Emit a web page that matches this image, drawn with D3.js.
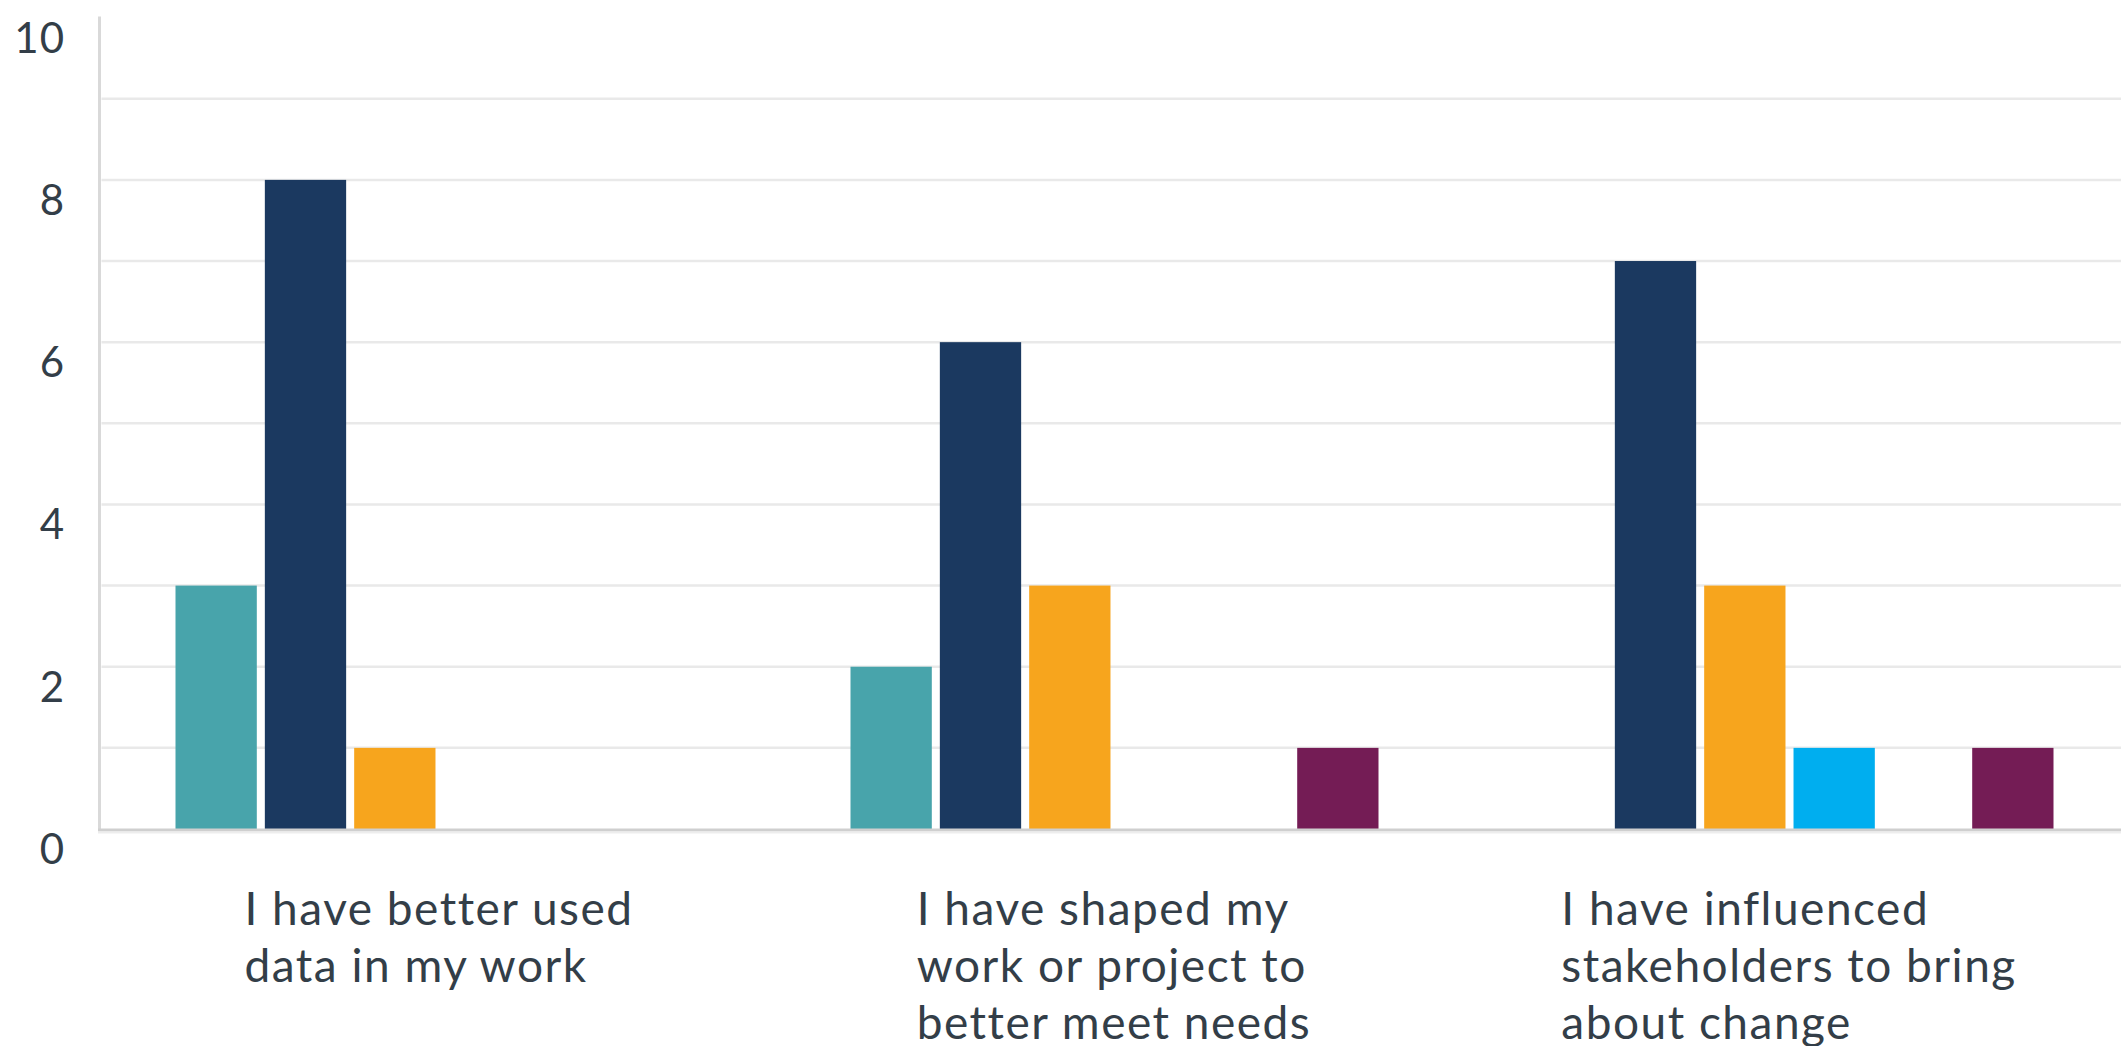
<!DOCTYPE html>
<html>
<head>
<meta charset="utf-8">
<script src="https://cdn.jsdelivr.net/npm/d3@7"></script>
<style>
  html, body { margin: 0; padding: 0; background: #ffffff; }
  svg { display: block; }
</style>
</head>
<body>
<svg id="chart" width="2121" height="1046"></svg>
<script>
// Categories along the x axis
const categories = [
  "I have better used data in my work",
  "I have shaped my work or project to better meet needs",
  "I have influenced stakeholders to bring about change"
];

// Response options (one bar per option in each group)
const seriesKeys = ["r1", "r2", "r3", "r4", "r5", "r6"];
const seriesColors = ["#48a4ab", "#1b3960", "#f7a51d", "#00aeef", "#9aa5b1", "#741c55"];

// Counts per response option, in category order
const r1 = [3, 2, 0];
const r2 = [8, 6, 7];
const r3 = [1, 3, 3];
const r4 = [0, 0, 1];
const r5 = [0, 0, 0];
const r6 = [0, 1, 1];
const seriesValues = [r1, r2, r3, r4, r5, r6];

// Y axis ticks
const yTicks = [0, 2, 4, 6, 8, 10];
const gridTicks = [1, 2, 3, 4, 5, 6, 7, 8, 9];

const svg = d3.select("#chart");
const W = 2121, H = 1046;
const axisX = 101.5;
const groupStep = 675;

const y = d3.scaleLinear().domain([0, 10]).range([829, 17.6]);
const x = d3.scaleBand()
  .domain(categories)
  .range([axisX, axisX + groupStep * categories.length])
  .paddingInner(0).paddingOuter(0);
const xs = d3.scaleBand()
  .domain(seriesKeys)
  .range([74, 74 + 528])
  .paddingInner(0.09).paddingOuter(0);

const textColor = "#333e48";
const fontFamily = "Lato, 'Open Sans', sans-serif";

// Horizontal gridlines
svg.append("g")
  .selectAll("line")
  .data(gridTicks)
  .join("line")
  .attr("x1", axisX).attr("x2", W)
  .attr("y1", d => y(d)).attr("y2", d => y(d))
  .attr("stroke", "#e9e9e9")
  .attr("stroke-width", 2.5);

// Bars
const rows = [];
categories.forEach((c, ci) => {
  seriesKeys.forEach((k, si) => {
    rows.push({ cat: c, key: k, value: seriesValues[si][ci], color: seriesColors[si] });
  });
});

svg.append("g")
  .selectAll("rect")
  .data(rows.filter(d => d.value > 0))
  .join("rect")
  .attr("x", d => x(d.cat) + xs(d.key))
  .attr("y", d => y(d.value))
  .attr("width", xs.bandwidth())
  .attr("height", d => y(0) - y(d.value))
  .attr("fill", d => d.color);

// Vertical axis line
svg.append("line")
  .attr("x1", axisX - 2).attr("x2", axisX - 2)
  .attr("y1", y(10) - 1).attr("y2", y(0) + 2)
  .attr("stroke", "#d9d9d9")
  .attr("stroke-width", 3);

// Baseline
svg.append("line")
  .attr("x1", axisX - 3.5).attr("x2", W)
  .attr("y1", y(0) + 1).attr("y2", y(0) + 1)
  .attr("stroke", "#cfcfcf")
  .attr("stroke-width", 3);
svg.append("line")
  .attr("x1", axisX - 3.5).attr("x2", W)
  .attr("y1", y(0) + 3.5).attr("y2", y(0) + 3.5)
  .attr("stroke", "#ededed")
  .attr("stroke-width", 2);

// Y tick labels (sit just below their value line)
const yAxis = d3.axisLeft(y).tickValues(yTicks).tickSize(0).tickFormat(d3.format("d"));
const yg = svg.append("g")
  .attr("transform", `translate(65,0)`)
  .call(yAxis);
yg.select(".domain").remove();
yg.selectAll("text")
  .attr("x", 0)
  .attr("dy", "0.32em")
  .attr("transform", "translate(0,21)")
  .attr("fill", textColor)
  .style("font-family", fontFamily)
  .style("font-size", "42px")
  .style("letter-spacing", "1px");

// Category labels: wrapped, block centred under each group, lines left-aligned
const wrapWidth = 475;
const lineGap = 57;
const labelG = svg.append("g");
categories.forEach(c => {
  const t = labelG.append("text")
    .attr("fill", textColor)
    .style("font-family", fontFamily)
    .style("font-size", "46px")
    .style("letter-spacing", "1.5px");
  const words = c.split(" ");
  const lines = [];
  let cur = [];
  const probe = t.append("tspan");
  words.forEach(w => {
    const trial = cur.concat([w]).join(" ");
    probe.text(trial);
    if (probe.node().getComputedTextLength() > wrapWidth && cur.length) {
      lines.push(cur.join(" "));
      cur = [w];
    } else {
      cur.push(w);
    }
  });
  if (cur.length) lines.push(cur.join(" "));
  probe.remove();
  const spans = t.selectAll("tspan").data(lines).join("tspan").text(d => d);
  let maxW = 0;
  spans.each(function () { maxW = Math.max(maxW, this.getComputedTextLength()); });
  const cx = x(c) + x.bandwidth() / 2;
  const left = cx - maxW / 2;
  spans.attr("x", left).attr("y", (d, i) => 925 + i * lineGap);
});
</script>
</body>
</html>
